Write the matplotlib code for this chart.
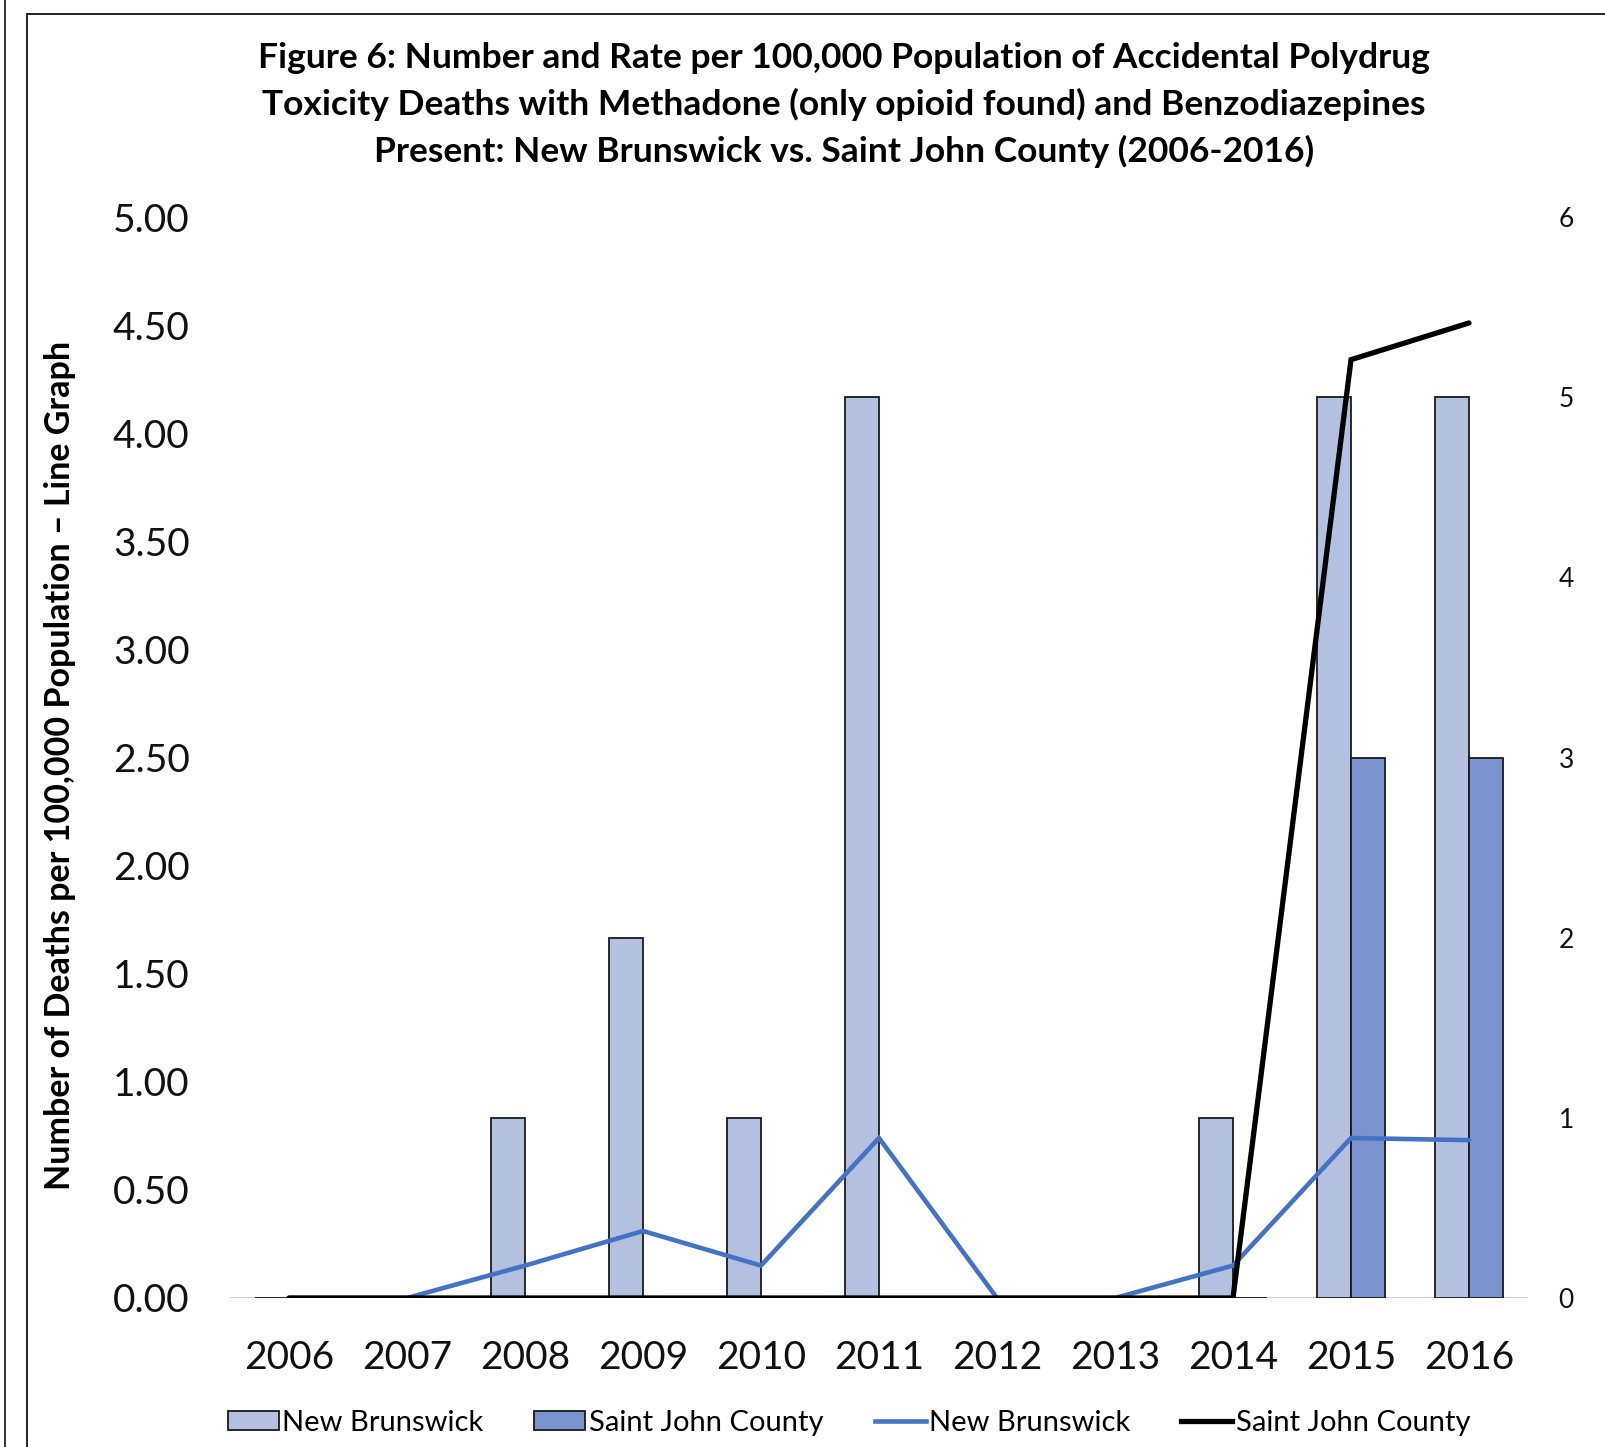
import matplotlib
matplotlib.use("Agg")
import matplotlib.pyplot as plt
from matplotlib.patches import Patch
from matplotlib.lines import Line2D
import numpy as np

plt.rcParams['font.family'] = ['Lato', 'DejaVu Sans']

years = ['2006', '2007', '2008', '2009', '2010', '2011', '2012', '2013', '2014', '2015', '2016']
# Number of deaths (bars, right axis)
nb_count = [0, 0, 1, 2, 1, 5, 0, 0, 1, 5, 5]
sj_count = [0, 0, 0, 0, 0, 0, 0, 0, 0, 3, 3]
# Rate per 100,000 population (lines, left axis)
nb_rate = [0, 0, 0.15, 0.31, 0.15, 0.74, 0, 0, 0.15, 0.74, 0.73]
sj_rate = [0, 0, 0, 0, 0, 0, 0, 0, 0, 4.34, 4.51]

W, H = 1605, 1447
fig = plt.figure(figsize=(W / 100, H / 100), dpi=100)

# outer frames
tf = fig.transFigure
fig.add_artist(Line2D([4.5 / W, 4.5 / W], [0, 1], color='#333333', lw=1.4, transform=tf))
fig.add_artist(Line2D([27.5 / W, 27.5 / W], [0, 1 - 13.5 / H], color='#222222', lw=1.4,
                      transform=tf, zorder=5))
fig.add_artist(Line2D([27.5 / W, 1], [1 - 13.5 / H, 1 - 13.5 / H], color='#222222', lw=1.4,
                      transform=tf, zorder=5))

ax_bar = fig.add_axes([230 / W, (H - 1298) / H, 1298 / W, 1081 / H])
ax_line = ax_bar.twinx()

x = np.arange(len(years))
bw = 0.285
nb_col = '#B4C0E0'
sj_col = '#7A93CF'
ax_bar.bar(x - bw / 2, nb_count, bw, color=nb_col, edgecolor='#1a1a1a', linewidth=1.3, zorder=2)
ax_bar.bar(x + bw / 2, sj_count, bw, color=sj_col, edgecolor='#1a1a1a', linewidth=1.3, zorder=2)
ax_bar.set_ylim(0, 6)
ax_bar.set_xlim(-0.5, len(years) - 0.5)
ax_bar.axhline(0, color='#D0D0D0', lw=1.5, zorder=1)

ax_line.plot(x, nb_rate, color='#4472C4', lw=3.3, solid_capstyle='round', solid_joinstyle='miter')
ax_line.plot(x, sj_rate, color='black', lw=3.8, solid_capstyle='round', solid_joinstyle='miter')
ax_line.set_ylim(0, 5)

# left axis: rate, right axis: count
ax_line.yaxis.set_ticks_position('left')
ax_line.yaxis.set_label_position('left')
ax_bar.yaxis.set_ticks_position('right')
ax_line.set_yticks(np.arange(0, 5.01, 0.5))
ax_line.set_yticklabels([f'{v:.2f}' for v in np.arange(0, 5.01, 0.5)])
ax_line.tick_params(axis='y', length=0, pad=29, labelsize=28, labelcolor='#111111')
ax_bar.set_yticks(range(7))
ax_bar.tick_params(axis='y', length=0, pad=22, labelsize=19, labelcolor='#111111')
ax_bar.set_xticks(x)
ax_bar.set_xticklabels(years)
ax_bar.tick_params(axis='x', length=0, pad=30, labelsize=28, labelcolor='#111111')

for a in (ax_bar, ax_line):
    for s in a.spines.values():
        s.set_visible(False)

ax_line.set_ylabel('Number of Deaths per 100,000 Population \u2013 Line Graph',
                   fontsize=24.5, fontweight='bold')
ax_line.yaxis.set_label_coords((76 - 230) / 1298, 0.493)

fig.text(1619 / W, 1 - 757 / H, 'Number of Deaths \u2013 Bar Graph', rotation=270,
         fontsize=22, fontweight='bold', ha='center', va='center')

fig.text(844 / W, 1 - 105 / H,
         'Figure 6: Number and Rate per 100,000 Population of Accidental Polydrug\n'
         'Toxicity Deaths with Methadone (only opioid found) and Benzodiazepines\n'
         'Present: New Brunswick vs. Saint John County (2006-2016)',
         ha='center', va='center', fontsize=25.5, fontweight='bold', linespacing=1.5)

handles = [
    Patch(facecolor=nb_col, edgecolor='#1a1a1a', linewidth=1.3),
    Patch(facecolor=sj_col, edgecolor='#1a1a1a', linewidth=1.3),
    Line2D([], [], color='#4472C4', lw=3.3),
    Line2D([], [], color='black', lw=3.8),
]
labels = ['New Brunswick', 'Saint John County', 'New Brunswick', 'Saint John County']
fig.legend(handles, labels, loc='center', bbox_to_anchor=(849 / W, 1 - 1423 / H), ncol=4,
           frameon=False, fontsize=21, handlelength=1.75, handletextpad=0.12,
           columnspacing=1.75, handleheight=0.6)

fig.savefig('out.png', dpi=100)
